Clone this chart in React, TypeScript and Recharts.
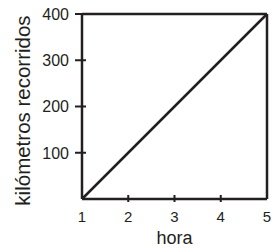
import React from 'react';
import { LineChart, Line, XAxis, YAxis, ReferenceLine } from 'recharts';

const horas = [1, 2, 3, 4, 5];
const kilometros = [0, 100, 200, 300, 400];
const yTicks = [100, 200, 300, 400];

const data = horas.map((h, i) => ({ hora: h, km: kilometros[i] }));

const INK = '#231f20';
const FONT = '"Liberation Sans", Arial, sans-serif';

const YTick = (props: any) => {
  const { x, y, payload } = props;
  return (
    <g>
      <line x1={x - 7} x2={x + 4} y1={y} y2={y} stroke={INK} strokeWidth={2} />
      <text x={x - 13} y={y} dy="0.36em" textAnchor="end" fontSize={16} style={{ fill: INK }} fontFamily={FONT}>
        {payload.value}
      </text>
    </g>
  );
};

const XTick = (props: any) => {
  const { x, y, payload, index } = props;
  return (
    <g>
      {index > 0 && index < horas.length - 1 && (
        <line x1={x} x2={x} y1={y - 4} y2={y + 3} stroke={INK} strokeWidth={2} />
      )}
      <text x={x} y={y + 23} textAnchor="middle" fontSize={15} style={{ fill: INK }} fontFamily={FONT}>
        {payload.value}
      </text>
    </g>
  );
};

export default function App() {
  return (
    <div style={{ position: 'absolute', left: 0, top: 0, background: '#fff' }}>
      <LineChart
        width={273}
        height={249}
        data={data}
        margin={{ top: 14, right: 6, bottom: 0, left: 0 }}
      >
        <XAxis
          dataKey="hora"
          type="number"
          domain={[1, 5]}
          ticks={horas}
          tickSize={0}
          tickMargin={0}
          tickLine={false}
          height={50}
          axisLine={{ stroke: INK, strokeWidth: 2.5 }}
          tick={<XTick />}
          label={{
            content: ({ viewBox }: any) => (
              <text
                x={viewBox.x + viewBox.width / 2}
                y={viewBox.y + 45}
                textAnchor="middle"
                fontSize={18}
                style={{ fill: INK }}
                fontFamily={FONT}
              >
                hora
              </text>
            ),
          }}
        />
        <YAxis
          type="number"
          domain={[0, 400]}
          ticks={yTicks}
          tickSize={0}
          tickMargin={0}
          tickLine={false}
          width={82}
          axisLine={{ stroke: INK, strokeWidth: 2.5 }}
          tick={<YTick />}
          label={{
            content: ({ viewBox }: any) => {
              const cx = viewBox.x + 30;
              const cy = viewBox.y + viewBox.height / 2 + 4;
              return (
                <text
                  x={cx}
                  y={cy}
                  transform={`rotate(-90, ${cx}, ${cy})`}
                  textAnchor="middle"
                  fontSize={20.5}
                  style={{ fill: INK }}
                  fontFamily={FONT}
                >
                  kilómetros recorridos
                </text>
              );
            },
          }}
        />
        <ReferenceLine y={400} stroke={INK} strokeWidth={2.5} />
        <ReferenceLine x={5} stroke={INK} strokeWidth={2.5} />
        <Line
          dataKey="km"
          type="linear"
          stroke={INK}
          strokeWidth={2.5}
          dot={false}
          isAnimationActive={false}
        />
      </LineChart>
    </div>
  );
}
